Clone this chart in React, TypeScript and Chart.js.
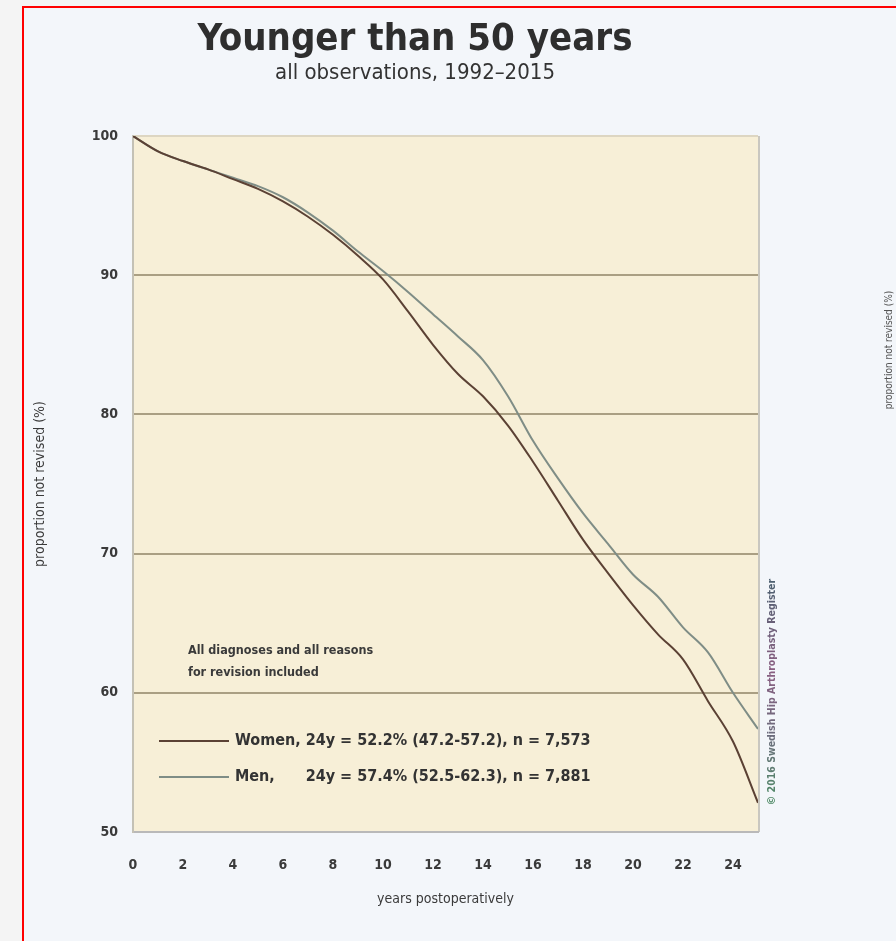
import React, { useEffect, useRef } from "react";
import { Chart, registerables } from "chart.js";

Chart.register(...registerables);

// ---------- data ----------
const years = [0, 1, 2, 3, 4, 5, 6, 7, 8, 9, 10, 11, 12, 13, 14, 15, 16, 17, 18, 19, 20, 21, 22, 23, 24, 25];
const women = [100, 98.9, 98.2, 97.6, 96.9, 96.2, 95.3, 94.2, 92.9, 91.4, 89.7, 87.4, 85.0, 82.9, 81.3, 79.2, 76.6, 73.8, 71.0, 68.6, 66.3, 64.2, 62.4, 59.4, 56.5, 52.1];
const men = [100, 98.9, 98.2, 97.6, 97.0, 96.4, 95.6, 94.5, 93.2, 91.7, 90.3, 88.8, 87.2, 85.6, 83.9, 81.3, 78.1, 75.4, 72.9, 70.7, 68.5, 66.9, 64.7, 62.9, 60.0, 57.4];
const yTicks = [50, 60, 70, 80, 90, 100];
const xTicks = [0, 2, 4, 6, 8, 10, 12, 14, 16, 18, 20, 22, 24];

const titleText = "Younger than 50 years";
const subtitleText = "all observations, 1992–2015";
const womenName = "Women,";
const womenStat = "24y = 52.2% (47.2-57.2), n = 7,573";
const menName = "Men,";
const menStat = "24y = 57.4% (52.5-62.3), n = 7,881";
const noteLines = ["All diagnoses and all reasons", "for revision included"];
const yTitle = "proportion not revised (%)";
const xTitle = "years postoperatively";
const sourceText = "© 2016 Swedish Hip Arthroplasty Register";
const neighbourTitle = "proportion not revised (%)";

// ---------- style ----------
const FONT = '"Liberation Sans Narrow", "DejaVu Sans Condensed", "Liberation Sans", sans-serif';
const WOMEN_COLOR = "#5b4134";
const MEN_COLOR = "#7f8d86";
const CREAM = "#f7efd7";
const GRID = "#aa9f83";

const decorPlugin = {
  id: "decor",
  beforeDraw(chart: any) {
    const { ctx, chartArea: a } = chart;
    ctx.save();
    ctx.fillStyle = CREAM;
    ctx.fillRect(a.left, a.top, a.right - a.left, a.bottom - a.top);
    ctx.strokeStyle = "#c9c7c0";
    ctx.lineWidth = 2;
    ctx.beginPath();
    ctx.moveTo(a.right + 1, a.top);
    ctx.lineTo(a.right + 1, a.bottom);
    ctx.stroke();
    ctx.restore();
  },
  afterDraw(chart: any) {
    const { ctx, chartArea: a } = chart;
    ctx.save();
    // titles
    ctx.textAlign = "center";
    ctx.textBaseline = "middle";
    ctx.fillStyle = "#2e2e2e";
    ctx.font = `bold 38px ${FONT}`;
    ctx.fillText(titleText, 415, 40);
    ctx.font = `22px ${FONT}`;
    ctx.fillStyle = "#333";
    ctx.fillText(subtitleText, 415, 73);

    // note
    ctx.textAlign = "left";
    ctx.font = `bold 12.5px ${FONT}`;
    ctx.fillStyle = "#3a3a3a";
    ctx.fillText(noteLines[0], a.left + 55, 651);
    ctx.fillText(noteLines[1], a.left + 55, 673);

    // legend
    const lx0 = a.left + 26;
    const lx1 = a.left + 96;
    const tx = lx1 + 6;
    ctx.lineWidth = 2;
    ctx.strokeStyle = WOMEN_COLOR;
    ctx.beginPath();
    ctx.moveTo(lx0, 741);
    ctx.lineTo(lx1, 741);
    ctx.stroke();
    ctx.strokeStyle = MEN_COLOR;
    ctx.beginPath();
    ctx.moveTo(lx0, 777);
    ctx.lineTo(lx1, 777);
    ctx.stroke();
    ctx.font = `bold 16px ${FONT}`;
    ctx.fillStyle = "#333";
    const wn = womenName + " ";
    ctx.fillText(wn, tx, 741);
    const statX = tx + ctx.measureText(wn).width;
    ctx.fillText(womenStat, statX, 741);
    ctx.fillText(menName, tx, 777);
    ctx.fillText(menStat, statX, 777);

    // vertical source text
    ctx.save();
    ctx.translate(a.right + 14, 692);
    ctx.rotate(-Math.PI / 2);
    const g = ctx.createLinearGradient(-108, 0, 108, 0);
    g.addColorStop(0, "#4f8a66");
    g.addColorStop(0.3, "#6c6c7c");
    g.addColorStop(0.6, "#8a5f82");
    g.addColorStop(1, "#4e6070");
    ctx.fillStyle = g;
    ctx.textAlign = "center";
    ctx.font = `bold 10.5px ${FONT}`;
    ctx.fillText(sourceText, 0, 0);
    ctx.restore();

    // partial neighbouring chart title
    ctx.save();
    ctx.translate(889, 350);
    ctx.rotate(-Math.PI / 2);
    ctx.textAlign = "center";
    ctx.fillStyle = "#555";
    ctx.font = `10px ${FONT}`;
    ctx.fillText(neighbourTitle, 0, 0);
    ctx.restore();

    ctx.restore();
  },
};

export default function App() {
  const ref = useRef<HTMLCanvasElement | null>(null);

  useEffect(() => {
    if (!ref.current) return;
    const chart = new Chart(ref.current, {
      type: "line",
      data: {
        datasets: [
          {
            label: "Women",
            data: years.map((x, i) => ({ x, y: women[i] })),
            borderColor: WOMEN_COLOR,
            borderWidth: 2,
            pointRadius: 0,
            cubicInterpolationMode: "monotone",
            fill: false,
          },
          {
            label: "Men",
            data: years.map((x, i) => ({ x, y: men[i] })),
            borderColor: MEN_COLOR,
            borderWidth: 2,
            pointRadius: 0,
            cubicInterpolationMode: "monotone",
            fill: false,
          },
        ],
      },
      options: {
        animation: false,
        responsive: false,
        maintainAspectRatio: false,
        layout: { padding: { left: 28, top: 136, right: 138, bottom: 33 } },
        plugins: {
          legend: { display: false },
          title: { display: false },
          tooltip: { enabled: false },
        },
        scales: {
          x: {
            type: "linear",
            min: 0,
            max: 25,
            afterFit: (s: any) => {
              s.height = 76;
            },
            afterBuildTicks: (s: any) => {
              s.ticks = xTicks.map((v) => ({ value: v }));
            },
            grid: { display: false, drawTicks: false },
            border: { display: true, color: "#b9b9b9", width: 2, dash: [3, 4] },
            ticks: {
              padding: 25,
              color: "#3a3a3a",
              font: { family: FONT, size: 14, weight: "bold" },
              maxRotation: 0,
              autoSkip: false,
            },
            title: {
              display: true,
              text: xTitle,
              color: "#3a3a3a",
              padding: 0,
              font: { family: FONT, size: 14 },
            },
          },
          y: {
            type: "linear",
            min: 50,
            max: 100,
            afterFit: (s: any) => {
              s.width = 105;
            },
            afterBuildTicks: (s: any) => {
              s.ticks = yTicks.map((v) => ({ value: v }));
            },
            grid: {
              drawTicks: false,
              lineWidth: 2,
              color: (c: any) => {
                const v = c.tick && c.tick.value;
                if (v === 100) return "#ddd6c2";
                if (v === 50) return "rgba(0,0,0,0)";
                return GRID;
              },
            },
            border: { display: true, color: "#c4c1b5", width: 2 },
            ticks: {
              padding: 15,
              color: "#3a3a3a",
              font: { family: FONT, size: 14, weight: "bold" },
              autoSkip: false,
            },
            title: {
              display: true,
              text: yTitle,
              color: "#3a3a3a",
              padding: { top: 4, bottom: 0 },
              font: { family: FONT, size: 14 },
            },
          },
        },
      },
      plugins: [decorPlugin],
    });
    return () => chart.destroy();
  }, []);

  return (
    <div
      style={{
        position: "absolute",
        left: 0,
        top: 0,
        width: 896,
        height: 941,
        overflow: "hidden",
        background: "#f4f4f4",
      }}
    >
      <div
        style={{
          position: "absolute",
          left: 22,
          top: 6,
          width: 900,
          height: 960,
          border: "2px solid #ff0000",
          background: "#f3f6fa",
          boxSizing: "border-box",
        }}
      />
      <canvas
        ref={ref}
        width={896}
        height={941}
        style={{ position: "absolute", left: 0, top: 0, width: 896, height: 941 }}
      />
    </div>
  );
}
